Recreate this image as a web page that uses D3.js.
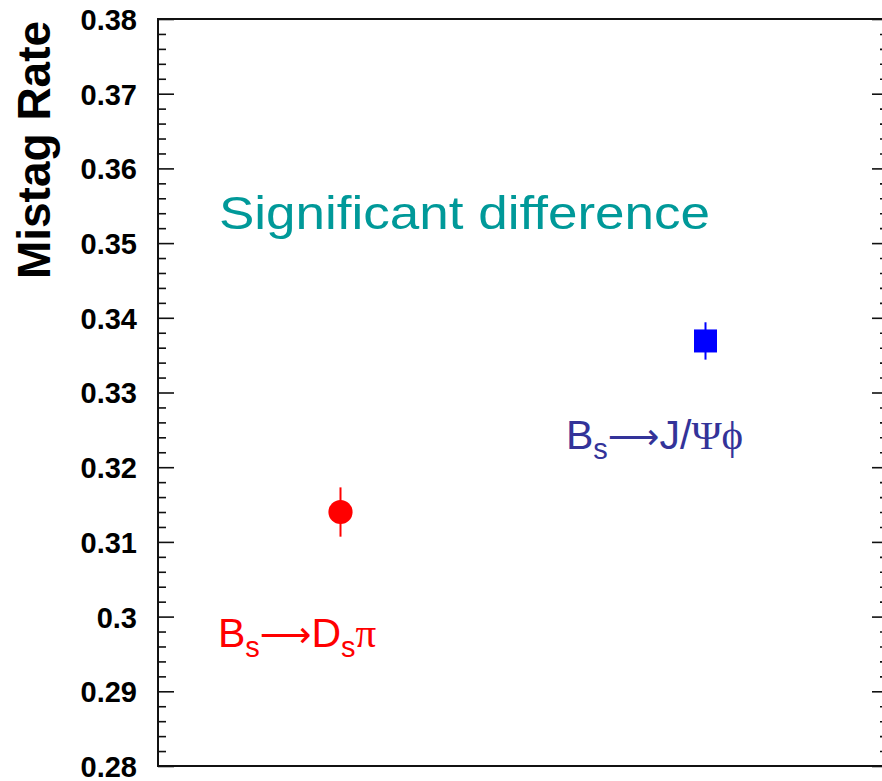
<!DOCTYPE html>
<html>
<head>
<meta charset="utf-8">
<script src="https://cdn.jsdelivr.net/npm/d3@7"></script>
<style>
  body { margin: 0; background: #fff; }
  svg { display: block; }
</style>
</head>
<body>
<svg id="chart" width="882" height="781"></svg>
<script>
// values
var channels = ["Ds", "JPsiPhi"];
var channelX = [1, 3];
var mistag = [0.3140, 0.3369];
var mistagErr = [0.0033, 0.0025];
var markerColor = ["#ff0000", "#0000ff"];
var markerShape = ["circle", "square"];

var yMajor = [0.28, 0.29, 0.30, 0.31, 0.32, 0.33, 0.34, 0.35, 0.36, 0.37, 0.38];
var yLabels = ["0.28", "0.29", "0.3", "0.31", "0.32", "0.33", "0.34", "0.35", "0.36", "0.37", "0.38"];

var padLeft = 158, padRight = 888, padTop = 19, padBottom = 766;

var svg = d3.select("#chart");

var x = d3.scaleLinear().domain([0, 4]).range([padLeft, padRight]);
var y = d3.scaleLinear().domain([0.28, 0.38]).range([padBottom, padTop]);

var yMinor = y.ticks(50).filter(function(d) {
    return !yMajor.some(function(m) { return Math.abs(m - d) < 1e-9; });
});

// frame
svg.append("rect")
    .attr("x", padLeft).attr("y", padTop)
    .attr("width", padRight - padLeft).attr("height", padBottom - padTop)
    .attr("fill", "none")
    .attr("stroke", "#111")
    .attr("stroke-width", 2);

// ticks pointing inward, both sides
function tickAxis(g, axis) {
    g.call(axis);
    g.select(".domain").remove();
    g.selectAll(".tick line").attr("stroke", "#111").attr("stroke-width", 1.6);
}

svg.append("g").attr("transform", "translate(" + padLeft + ",0)")
    .call(tickAxis, d3.axisRight(y).tickValues(yMajor).tickSize(16).tickFormat(""));
svg.append("g").attr("transform", "translate(" + padLeft + ",0)")
    .call(tickAxis, d3.axisRight(y).tickValues(yMinor).tickSize(8).tickFormat(""));
svg.append("g").attr("transform", "translate(" + padRight + ",0)")
    .call(tickAxis, d3.axisLeft(y).tickValues(yMajor).tickSize(16).tickFormat(""));
svg.append("g").attr("transform", "translate(" + padRight + ",0)")
    .call(tickAxis, d3.axisLeft(y).tickValues(yMinor).tickSize(8).tickFormat(""));

// tick labels
var labelAxis = svg.append("g").attr("transform", "translate(" + padLeft + ",0)")
    .call(d3.axisLeft(y).tickValues(yMajor).tickSize(0).tickPadding(21)
        .tickFormat(function(d, i) { return yLabels[i]; }));
labelAxis.select(".domain").remove();
labelAxis.selectAll("text")
    .attr("font-family", "Liberation Sans, Arial, sans-serif")
    .attr("font-weight", "bold")
    .attr("font-size", 29)
    .attr("fill", "#000")
    .attr("dy", "0.36em");

// y title
svg.append("text")
    .attr("transform", "translate(50,150) rotate(-90)")
    .attr("text-anchor", "middle")
    .attr("font-family", "Liberation Sans, Arial, sans-serif")
    .attr("font-weight", "bold")
    .attr("font-size", 46)
    .attr("fill", "#000")
    .text("Mistag Rate");

// error bars
svg.selectAll(".err")
    .data(channels)
    .enter()
    .append("line")
    .attr("class", "err")
    .attr("x1", function(d, i) { return x(channelX[i]); })
    .attr("x2", function(d, i) { return x(channelX[i]); })
    .attr("y1", function(d, i) { return y(mistag[i] - mistagErr[i]); })
    .attr("y2", function(d, i) { return y(mistag[i] + mistagErr[i]); })
    .attr("stroke", function(d, i) { return markerColor[i]; })
    .attr("stroke-width", 2);

// markers
svg.selectAll(".marker")
    .data(channels)
    .enter()
    .append("path")
    .attr("class", "marker")
    .attr("transform", function(d, i) { return "translate(" + x(channelX[i]) + "," + y(mistag[i]) + ")"; })
    .attr("d", function(d, i) {
        var t = markerShape[i] == "circle" ? d3.symbolCircle : d3.symbolSquare;
        var s = markerShape[i] == "circle" ? 460 : 530;
        return d3.symbol().type(t).size(s)();
    })
    .attr("fill", function(d, i) { return markerColor[i]; });

// annotation
svg.append("text")
    .attr("x", 219).attr("y", 229)
    .attr("font-family", "Liberation Sans, Arial, sans-serif")
    .attr("font-size", 47)
    .attr("fill", "#009999")
    .attr("textLength", 491)
    .attr("lengthAdjust", "spacingAndGlyphs")
    .text("Significant difference");

function decayLabel(xp, yp, color, parts) {
    var t = svg.append("text")
        .attr("x", xp).attr("y", yp)
        .attr("font-family", "Liberation Sans, Arial, sans-serif")
        .attr("font-size", 41)
        .attr("fill", color);
    parts.forEach(function(p) {
        var ts = t.append("tspan").text(p.t);
        if (p.sub) ts.attr("font-size", 29).attr("dy", 10);
        if (p.up) ts.attr("dy", -10);
        if (p.serif) ts.attr("font-family", "Liberation Serif, Times New Roman, serif");
        if (p.arrow) ts.attr("font-family", "DejaVu Sans, sans-serif").attr("font-size", 36);
    });
}

decayLabel(218, 647, "#ff0000", [
    {t: "B"}, {t: "s", sub: true}, {t: "\u27f6", up: true, arrow: true}, {t: "D"},
    {t: "s", sub: true}, {t: "\u03c0", up: true, serif: true}
]);

decayLabel(566, 449, "#333399", [
    {t: "B"}, {t: "s", sub: true}, {t: "\u27f6", up: true, arrow: true}, {t: "J/"},
    {t: "\u03a8\u03d5", serif: true}
]);
</script>
</body>
</html>
